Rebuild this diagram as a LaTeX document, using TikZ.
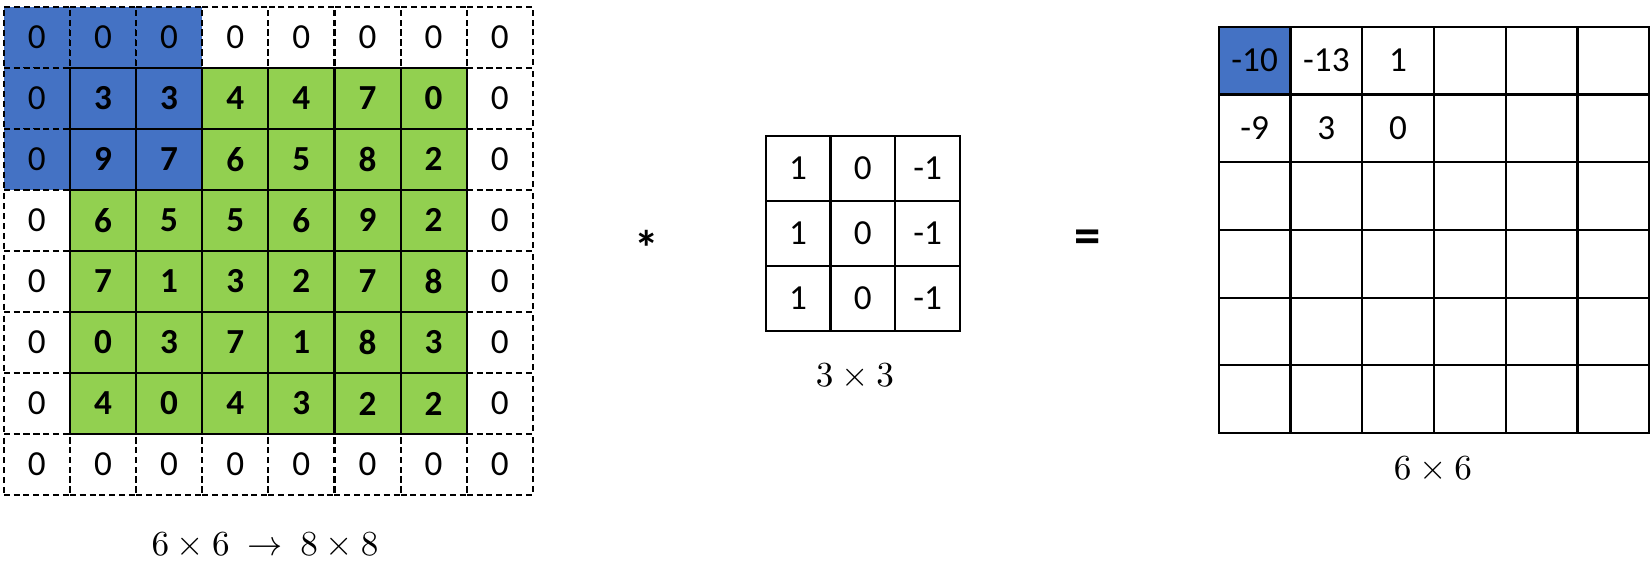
\documentclass[tikz,border=0pt]{standalone}
\usepackage{fontspec}
\setmainfont{Carlito}
\usetikzlibrary{positioning,matrix}

\definecolor{hlblue}{HTML}{4472C4}
\definecolor{imggreen}{HTML}{92D050}

\begin{document}
\begin{tikzpicture}[x=0.01cm,y=-0.01cm,
  cell/.style={draw,line width=0.6pt,inner sep=0pt,outer sep=0pt,anchor=center,text=black},
  imgcell/.style={cell,minimum width=0.661cm,minimum height=0.61cm},
  inner/.style={solid,fill=imggreen,font=\bfseries},
  pad/.style={dash pattern=on 1.7pt off 1.1pt,fill=none,font=\normalfont},
  hl/.style={fill=hlblue},
  kcell/.style={cell,minimum width=0.647cm,minimum height=0.65cm},
  ocell/.style={cell,minimum width=0.717cm,minimum height=0.677cm},
  grid/.style={matrix of nodes,anchor=north west,inner sep=0pt,
    column sep=-0.6pt,row sep=-0.6pt}]
\useasboundingbox (0,0) rectangle (1650,571);
% padded input
\matrix (img) [grid,nodes={imgcell,inner},
  row 1/.style={nodes=pad},row 8/.style={nodes=pad},
  column 1/.style={nodes=pad},column 8/.style={nodes=pad}] at (2,5) {
  |[hl]|0 & |[hl]|0 & |[hl]|0 & 0 & 0 & 0 & 0 & 0 \\
  |[hl]|0 & |[hl]|3 & |[hl]|3 & 4 & 4 & 7 & 0 & 0 \\
  |[hl]|0 & |[hl]|9 & |[hl]|7 & 6 & 5 & 8 & 2 & 0 \\
  0 & 6 & 5 & 5 & 6 & 9 & 2 & 0 \\
  0 & 7 & 1 & 3 & 2 & 7 & 8 & 0 \\
  0 & 0 & 3 & 7 & 1 & 8 & 3 & 0 \\
  0 & 4 & 0 & 4 & 3 & 2 & 2 & 0 \\
  0 & 0 & 0 & 0 & 0 & 0 & 0 & 0 \\
};
\node (imglbl) at (265,546) {$6\times6\ \rightarrow\ 8\times8$};

\node (conv) at (647,248) {\fontsize{14}{16}\selectfont\bfseries *};

% kernel
\matrix (kernel) [grid,nodes={kcell}] at (764,134) {
  1 & 0 & -1 \\
  1 & 0 & -1 \\
  1 & 0 & -1 \\
};
\node (kerlbl) at (855,377) {$3\times3$};

\node (eq) at (1088,242) {\fontsize{15}{18}\selectfont\bfseries =};

% output
\matrix (out) [grid,nodes in empty cells,nodes={ocell}] at (1217,25) {
  |[hl]|-10 & -13 & 1 & & & \\
  -9 & 3 & 0 & & & \\
  & & & & & \\
  & & & & & \\
  & & & & & \\
  & & & & & \\
};
\node (outlbl) at (1433,470) {$6\times6$};
\end{tikzpicture}
\end{document}
